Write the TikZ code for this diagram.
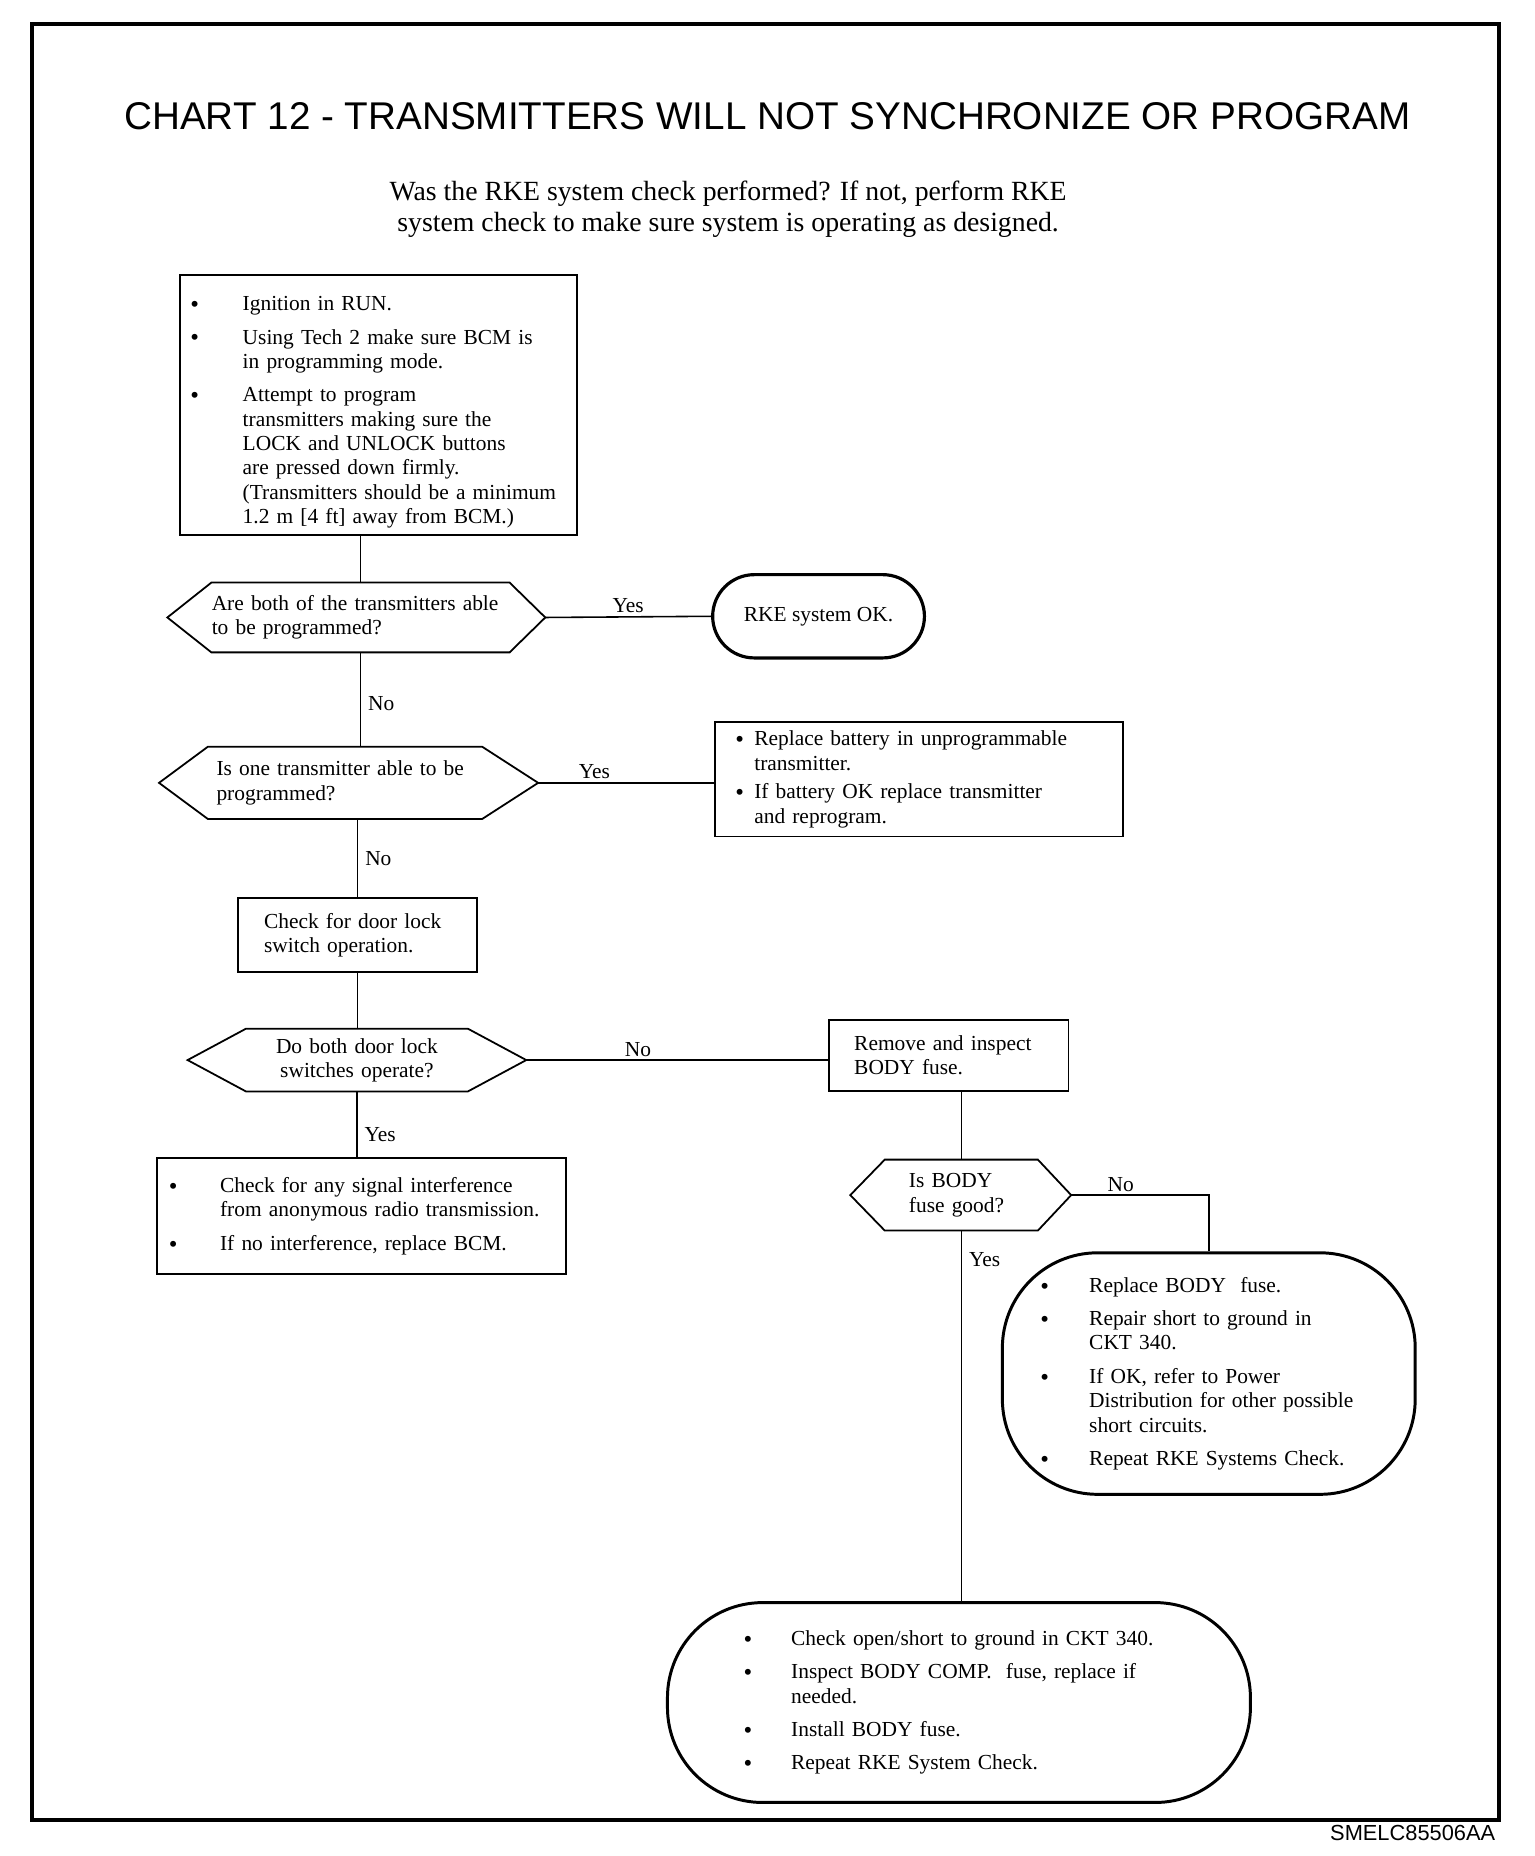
\documentclass[tikz,border=0pt]{standalone}
\usepackage{fontspec}
\setmainfont{Liberation Serif}
\newfontfamily\chartsans{Liberation Sans}
\usepackage{tikz}
\usetikzlibrary{calc}

\newlength{\pxu}
\setlength{\pxu}{0.6pt}
\newcommand{\chartfont}{\fontsize{10.8}{12.3}\selectfont}
\newcommand{\itm}[1][41]{\makebox[#1\pxu][l]{\raisebox{-0.2ex}{\fontsize{12.5}{12.3}\selectfont\textbullet}}}
\newcommand{\nxt}[1][41]{\hspace*{#1\pxu}}
% hexagon round a query node: name, left tip, right tip
\newcommand{\hexbox}[3]{%
  \draw[line width=0.9pt] (#1.north west) -- (#1.north east)
    -- ([xshift=#3\pxu]#1.east) coordinate (#1-r)
    -- (#1.south east) -- (#1.south west)
    -- ([xshift=-#2\pxu]#1.west) coordinate (#1-l) -- cycle;}

\begin{document}
\begin{tikzpicture}[x=0.6pt,y=-0.6pt,
                    flow/.style={line width=0.8pt},
                    stepbox/.style={draw,line width=0.9pt,rectangle,align=left,font=\chartfont},
                    termbox/.style={draw,line width=1.5pt,rectangle,align=left,font=\chartfont},
                    query/.style={rectangle,inner sep=0pt,align=left,font=\chartfont},
                    lbl/.style={font=\chartfont,inner sep=1.5pt}]

  \useasboundingbox (0,0) rectangle (1290,1560);
  \draw[line width=2pt] (27,20) rectangle (1260,1530);

  \node[font=\chartsans\fontsize{19.5}{22}\selectfont] (title) at (645,98)
    {CHART 12 - TRANSMITTERS WILL NOT SYNCHRONIZE OR PROGRAM};
  \node[align=center,font=\fontsize{14}{15.6}\selectfont] (intro) at (612,176)
    {Was the RKE system check performed? If not, perform RKE\\
     system check to make sure system is operating as designed.};

  \node[stepbox,minimum height=217\pxu,inner xsep=9\pxu,text width=316\pxu] (prep) at (318,340.5)
    {\rule{0pt}{14.5pt}\itm[44]Ignition in RUN.\\[4.5pt]
     \itm[44]Using Tech 2 make sure BCM is\\
     \nxt[44]in programming mode.\\[4.5pt]
     \itm[44]Attempt to program\\
     \nxt[44]transmitters making sure the\\
     \nxt[44]LOCK and UNLOCK buttons\\
     \nxt[44]are pressed down firmly.\\
     \nxt[44](Transmitters should be a minimum\\
     \nxt[44]1.2 m [4 ft] away from BCM.)};

  \node[query,text width=250\pxu,minimum height=58\pxu] (both) at (303,519)
    {Are both of the transmitters able\\to be programmed?};
  \hexbox{both}{37}{30}

  \node[termbox,line width=1.6pt,rounded corners=21pt,minimum width=178\pxu,
        minimum height=70\pxu,align=center] (sysok) at (688,518) {RKE system OK.};

  \node[query,inner xsep=7\pxu,text width=216\pxu,minimum height=60\pxu] (one) at (290,658)
    {Is one transmitter able to be\\programmed?};
  \hexbox{one}{41}{47}

  \node[stepbox,minimum height=96\pxu,inner xsep=17\pxu,text width=309\pxu] (battery) at (772.5,655)
    {\itm[16]Replace battery in unprogrammable\\
     \nxt[16]transmitter.\\[2.1pt]
     \itm[16]If battery OK replace transmitter\\
     \nxt[16]and reprogram.};

  \node[stepbox,minimum height=62\pxu,inner xsep=22\pxu,text width=157\pxu] (switch) at (300.5,786)
    {Check for door lock\\switch operation.};

  \node[query,align=center,text width=186\pxu,minimum height=52\pxu] (doors) at (300,891)
    {Do both door lock\\switches operate?};
  \hexbox{doors}{49}{49}

  \node[stepbox,minimum height=60\pxu,inner xsep=21\pxu,text width=159\pxu] (fuse) at (797.5,887)
    {Remove and inspect\\BODY fuse.};

  \node[query,inner xsep=20\pxu,text width=88\pxu,minimum height=59\pxu] (fusegood) at (808,1004.5)
    {Is BODY\\fuse good?};
  \hexbox{fusegood}{29}{28}

  \node[stepbox,minimum height=98\pxu,inner xsep=10\pxu,text width=324\pxu] (noise) at (304,1022)
    {\itm[43]Check for any signal interference\\
     \nxt[43]from anonymous radio transmission.\\[4.5pt]
     \itm[43]If no interference, replace BCM.};

  \node[termbox,rounded corners=48pt,minimum height=203\pxu,inner xsep=32\pxu,text width=283\pxu] (short) at (1016,1154.5)
    {\itm Replace BODY\ \ fuse.\\[4.5pt]
     \itm Repair short to ground in\\
     \nxt CKT 340.\\[4.5pt]
     \itm If OK, refer to Power\\
     \nxt Distribution for other possible\\
     \nxt short circuits.\\[4.5pt]
     \itm Repeat RKE Systems Check.};

  \node[termbox,rounded corners=48pt,minimum height=168\pxu,inner xsep=64\pxu,text width=362\pxu] (open) at (806,1431)
    {\itm[40]Check open/short to ground in CKT 340.\\[4.5pt]
     \itm[40]Inspect BODY COMP.\ \ fuse, replace if\\
     \nxt[40]needed.\\[4.5pt]
     \itm[40]Install BODY fuse.\\[4.5pt]
     \itm[40]Repeat RKE System Check.};

  \node[font=\chartsans\fontsize{11}{13}\selectfont,anchor=east,inner sep=0pt] (code) at (1257,1541)
    {SMELC85506AA};

  % connectors
  \draw[flow] (both.north |- prep.south) -- (both.north);
  \draw[flow] (both-r) -- (sysok.west) node[lbl,midway,above] {Yes};
  \draw[flow] (both.south) -- (both.south |- one.north) node[lbl,pos=0.54,right,xshift=2pt] {No};
  \draw[flow] (one-r) -- (one-r -| battery.west) node[lbl,pos=0.32,above] {Yes};
  \draw[flow] (switch.north |- one.south) -- (switch.north) node[lbl,pos=0.5,right,xshift=2pt] {No};
  \draw[flow] (switch.south) -- (switch.south |- doors.north);
  \draw[flow] (doors-r) -- (doors-r -| fuse.west) node[lbl,pos=0.37,above] {No};
  \draw[flow] (doors.south) -- (doors.south |- noise.north) node[lbl,pos=0.66,right,xshift=2pt] {Yes};
  \draw[flow] (fusegood.north |- fuse.south) -- (fusegood.north);
  \draw[flow] (fusegood-r) -| (short.north) node[lbl,pos=0.18,above] {No};
  \draw[flow] (fusegood.south) -- (fusegood.south |- open.north) node[lbl,pos=0.077,right,xshift=2pt] {Yes};
\end{tikzpicture}
\end{document}
